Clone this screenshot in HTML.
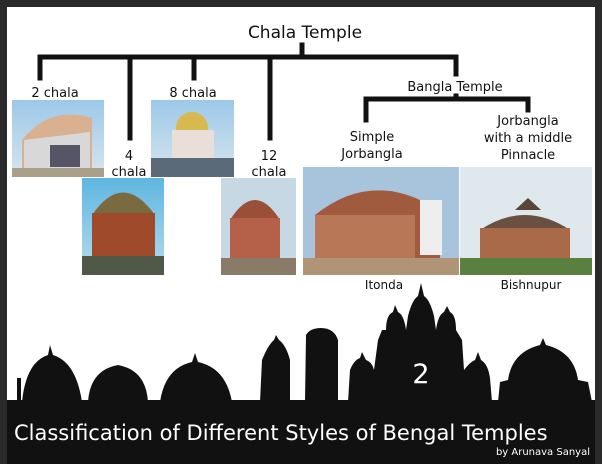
<!DOCTYPE html>
<html><head><style>
body{margin:0;width:602px;height:464px;overflow:hidden;background:#fff;font-family:"DejaVu Sans","Liberation Sans",sans-serif}
</style></head><body>
<svg width="602" height="464" viewBox="0 0 602 464" xmlns="http://www.w3.org/2000/svg" style="position:absolute;left:0;top:0">
<defs>
<linearGradient id="sky" x1="0" y1="0" x2="0" y2="1"><stop offset="0" stop-color="#9cc8e8"/><stop offset="1" stop-color="#d8e6ee"/></linearGradient>
<linearGradient id="sky2" x1="0" y1="0" x2="0" y2="1"><stop offset="0" stop-color="#5fb6e0"/><stop offset="1" stop-color="#b6dcef"/></linearGradient>
</defs>
<rect x="0" y="0" width="602" height="464" fill="#2a2a2a"/>
<rect x="7" y="7" width="588" height="452" fill="#fff"/>
<g stroke="#111" stroke-width="5" fill="none" stroke-linecap="square">
<line x1="302" y1="45" x2="302" y2="57"/>
<line x1="40" y1="57" x2="456" y2="57"/>
<line x1="40" y1="57" x2="40" y2="78"/>
<line x1="130" y1="57" x2="130" y2="138"/>
<line x1="194" y1="57" x2="194" y2="78"/>
<line x1="270" y1="57" x2="270" y2="138"/>
<line x1="456" y1="57" x2="456" y2="74"/>
<line x1="456" y1="96" x2="456" y2="99"/>
<line x1="366" y1="99" x2="528" y2="99"/>
<line x1="366" y1="99" x2="366" y2="120"/>
<line x1="528" y1="99" x2="528" y2="110"/>
</g>
<g fill="#111" font-family="DejaVu Sans, Liberation Sans, sans-serif" text-anchor="middle">
<text x="305" y="38" font-size="17">Chala Temple</text>
<text x="55" y="97" font-size="13">2 chala</text>
<text x="193" y="97" font-size="13">8 chala</text>
<text x="129" y="160" font-size="13">4</text>
<text x="129" y="176" font-size="13">chala</text>
<text x="269" y="160" font-size="13">12</text>
<text x="269" y="176" font-size="13">chala</text>
<text x="455" y="91" font-size="13">Bangla Temple</text>
<text x="372" y="141" font-size="13">Simple</text>
<text x="372" y="158" font-size="13">Jorbangla</text>
<text x="528" y="125" font-size="13">Jorbangla</text>
<text x="528" y="142" font-size="13">with a middle</text>
<text x="528" y="159" font-size="13">Pinnacle</text>
<text x="384" y="289" font-size="12">Itonda</text>
<text x="531" y="289" font-size="12">Bishnupur</text>
</g>
<rect x="12" y="100" width="92" height="77" fill="url(#sky)"/>
<path d="M22 140 Q50 105 92 118 L92 168 L22 168Z" fill="#d9b090"/>
<path d="M24 140 L90 132 L90 170 L24 170Z" fill="#d8d8d8"/>
<rect x="12" y="168" width="92" height="9" fill="#a8a088"/>
<rect x="50" y="145" width="30" height="22" fill="#556"/>
<rect x="151" y="100" width="83" height="77" fill="url(#sky)"/>
<ellipse cx="192" cy="128" rx="16" ry="16" fill="#d9b850"/>
<rect x="172" y="130" width="42" height="28" fill="#e8e0d8"/>
<rect x="151" y="158" width="83" height="19" fill="#5a6a78"/>
<rect x="82" y="178" width="82" height="97" fill="url(#sky2)"/>
<path d="M92 215 Q123 170 155 215Z" fill="#7a6a40"/>
<rect x="92" y="213" width="63" height="45" fill="#a04a2c"/>
<rect x="82" y="256" width="82" height="19" fill="#505848"/>
<rect x="221" y="178" width="75" height="97" fill="#c6d8e4"/>
<path d="M230 220 Q255 180 280 220Z" fill="#9a5038"/>
<rect x="230" y="218" width="50" height="42" fill="#b56048"/>
<rect x="221" y="258" width="75" height="17" fill="#8a7a68"/>
<rect x="303" y="167" width="156" height="108" fill="#a8c4dc"/>
<path d="M315 215 Q365 175 420 200 L440 240 L440 260 L315 260Z" fill="#a05a3e"/>
<rect x="315" y="215" width="100" height="45" fill="#b87858"/>
<rect x="420" y="200" width="22" height="55" fill="#eee"/>
<rect x="303" y="258" width="156" height="17" fill="#b09478"/>
<rect x="460" y="167" width="132" height="108" fill="#dfe8ec"/>
<path d="M480 230 Q525 200 570 230Z" fill="#6a5040"/>
<path d="M515 210 L528 198 L541 210Z" fill="#5a4638"/>
<rect x="480" y="228" width="90" height="32" fill="#a86a48"/>
<rect x="460" y="258" width="132" height="17" fill="#5a8040"/>
<g fill="#111">
<rect x="7" y="400" width="588" height="64"/>
<rect x="17" y="378" width="4" height="25"/>
<path d="M22 402 Q26 362 48 355 L50 345 L53 355 Q76 362 82 402Z"/>
<path d="M88 402 Q90 370 118 365 Q146 370 148 402Z"/>
<path d="M160 402 Q165 368 192 362 L195 353 L198 362 Q226 368 232 402Z"/>
<path d="M260 402 L262 360 Q268 345 274 340 L276 335 L279 340 Q286 345 290 360 L290 402Z"/>
<path d="M305 402 L306 335 Q310 328 321 328 Q334 328 338 340 L338 402Z"/>
<path d="M348 402 L350 370 Q354 360 360 358 L362 352 L366 360 Q372 362 374 370 L378 340 L382 330 L386 330 Q386 315 393 312 L395 305 L398 312 Q404 315 406 330 L408 316 Q412 300 418 296 L421 283 L424 296 Q430 300 434 316 L436 330 Q438 315 444 312 L447 306 L450 312 Q456 315 456 330 L462 340 L464 370 Q470 362 475 360 L478 352 L481 360 Q488 364 490 378 L492 402Z"/>
<path d="M498 402 L500 382 L508 380 Q512 352 540 345 L543 338 L546 345 Q574 352 578 380 L588 382 L592 402Z"/>
</g>
<g fill="#fff" font-family="DejaVu Sans, Liberation Sans, sans-serif">
<text x="421" y="383" font-size="27" text-anchor="middle">2</text>
<text x="14" y="440" font-size="21">Classification of Different Styles of Bengal Temples</text>
<text x="590" y="455" font-size="10" text-anchor="end">by Arunava Sanyal</text>
</g>
</svg>
</body></html>
